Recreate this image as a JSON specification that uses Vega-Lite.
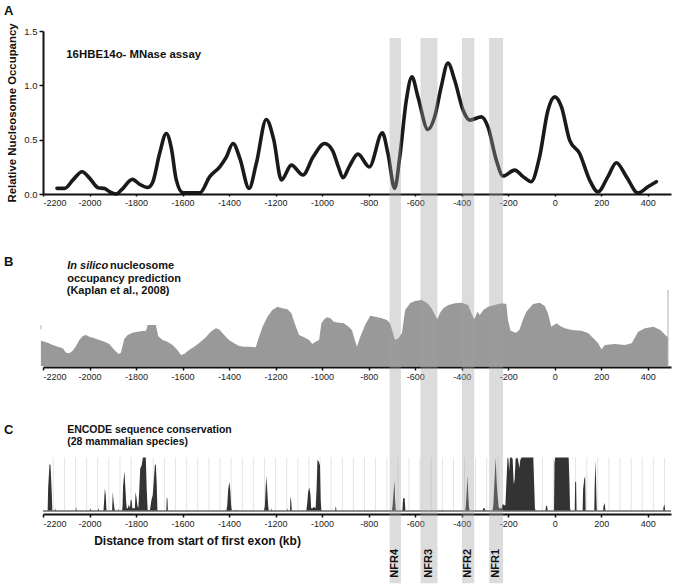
{
"$schema": "https://vega.github.io/schema/vega-lite/v6.json",
"padding": {"left": 3, "top": 5, "right": 0, "bottom": 0},
"spacing": 40,
"bounds": "flush",
"config": {"view": {"stroke": null}, "font": "Liberation Sans",
  "axis": {"grid": false, "domainColor": "#111", "domainWidth": 2, "tickColor": "#111", "tickWidth": 1.5, "tickSize": 3, "labelFont": "Liberation Sans", "labelFontSize": 9, "labelColor": "#222", "labelPadding": 2, "title": null}},
"vconcat": [
{
 "width": 628, "height": 163,
 "layer": [
  {"data": {"values": [
   {"x":-2140,"v":0.052},{"x":-2107,"v":0.052},{"x":-2071,"v":0.13},{"x":-2032,"v":0.205},{"x":-1999,"v":0.144},{"x":-1963,"v":0.058},{"x":-1935,"v":0.05},{"x":-1913,"v":0.02},{"x":-1885,"v":0.0},{"x":-1863,"v":0.037},{"x":-1816,"v":0.135},{"x":-1785,"v":0.09},{"x":-1749,"v":0.06},{"x":-1728,"v":0.11},{"x":-1699,"v":0.37},{"x":-1670,"v":0.557},{"x":-1648,"v":0.42},{"x":-1627,"v":0.13},{"x":-1598,"v":0.01},{"x":-1555,"v":0.01},{"x":-1526,"v":0.01},{"x":-1483,"v":0.16},{"x":-1440,"v":0.25},{"x":-1412,"v":0.34},{"x":-1383,"v":0.465},{"x":-1354,"v":0.33},{"x":-1314,"v":0.052},{"x":-1283,"v":0.28},{"x":-1240,"v":0.686},{"x":-1208,"v":0.5},{"x":-1175,"v":0.13},{"x":-1132,"v":0.266},{"x":-1082,"v":0.175},{"x":-1039,"v":0.34},{"x":-989,"v":0.465},{"x":-955,"v":0.4},{"x":-930,"v":0.25},{"x":-910,"v":0.15},{"x":-884,"v":0.25},{"x":-846,"v":0.367},{"x":-797,"v":0.25},{"x":-741,"v":0.563},{"x":-717,"v":0.373},{"x":-688,"v":0.052},{"x":-666,"v":0.343},{"x":-638,"v":0.863},{"x":-614,"v":1.078},{"x":-588,"v":0.894},{"x":-545,"v":0.594},{"x":-516,"v":0.71},{"x":-488,"v":0.986},{"x":-459,"v":1.206},{"x":-430,"v":1.047},{"x":-394,"v":0.771},{"x":-365,"v":0.68},{"x":-315,"v":0.71},{"x":-287,"v":0.618},{"x":-251,"v":0.312},{"x":-222,"v":0.165},{"x":-172,"v":0.22},{"x":-136,"v":0.16},{"x":-101,"v":0.113},{"x":-65,"v":0.343},{"x":-29,"v":0.771},{"x":0,"v":0.894},{"x":29,"v":0.802},{"x":64,"v":0.496},{"x":107,"v":0.373},{"x":150,"v":0.129},{"x":186,"v":0.02},{"x":229,"v":0.16},{"x":265,"v":0.288},{"x":308,"v":0.16},{"x":358,"v":0.01},{"x":401,"v":0.067},{"x":437,"v":0.113}
  ]},
  "mark": {"type": "line", "interpolate": "monotone", "strokeWidth": 3.6, "color": "#1a1a1a", "strokeCap": "round", "strokeJoin": "round"},
  "encoding": {
   "x": {"field": "x", "type": "quantitative", "scale": {"domain": [-2200, 500], "nice": false, "zero": false},
         "axis": {"values": [-2200,-2000,-1800,-1600,-1400,-1200,-1000,-800,-600,-400,-200,0,200,400], "labelExpr": "'' + datum.value", "tickSize": 2, "zindex": 1}},
   "y": {"field": "v", "type": "quantitative", "scale": {"domain": [0, 1.5], "nice": false},
         "axis": {"values": [0, 0.5, 1, 1.5], "format": ".1f", "tickSize": 4, "labelFontSize": 9.5, "title": "Relative Nucleosome Occupancy", "titleFont": "Liberation Sans", "titleFontSize": 11.4, "titleFontWeight": "bold", "titleColor": "#111", "titlePadding": 6}}
  }},
  {"data": {"values": [{"t": "16HBE14o- MNase assay"}]},
   "mark": {"type": "text", "align": "left", "baseline": "middle", "fontSize": 11.4, "fontWeight": "bold", "color": "#111"},
   "encoding": {"x": {"datum": -2100, "type": "quantitative"}, "y": {"datum": 1.276, "type": "quantitative"}, "text": {"field": "t"}}},
  {"data": {"values": [{"t": "A"}]},
   "mark": {"type": "text", "align": "left", "baseline": "middle", "fontSize": 13, "fontWeight": "bold", "color": "#111"},
   "encoding": {"x": {"datum": -2368, "type": "quantitative"}, "y": {"datum": 1.68, "type": "quantitative"}, "text": {"field": "t"}}}
 ]
},
{
 "width": 628, "height": 132,
 "layer": [
  {"data": {"values": [
   {"x":-2209,"h":25.3},{"x":-2180,"h":23.3},{"x":-2158,"h":21},{"x":-2137,"h":19.3},{"x":-2115,"h":17.7},{"x":-2101,"h":13.3},{"x":-2087,"h":12.7},{"x":-2072,"h":15.3},{"x":-2058,"h":20},{"x":-2044,"h":26},{"x":-2029,"h":30},{"x":-2015,"h":31},{"x":-2001,"h":29.3},{"x":-1979,"h":27.7},{"x":-1958,"h":26},{"x":-1936,"h":24.3},{"x":-1915,"h":22},{"x":-1893,"h":16},{"x":-1875,"h":12},{"x":-1865,"h":13.3},{"x":-1851,"h":26.7},{"x":-1836,"h":31},{"x":-1815,"h":33.3},{"x":-1793,"h":34.3},{"x":-1772,"h":35},{"x":-1757,"h":35.3},{"x":-1750,"h":41},{"x":-1715,"h":41},{"x":-1705,"h":30},{"x":-1686,"h":26},{"x":-1665,"h":24.3},{"x":-1643,"h":21},{"x":-1622,"h":16},{"x":-1607,"h":11},{"x":-1593,"h":12},{"x":-1572,"h":16},{"x":-1550,"h":19.3},{"x":-1522,"h":24.3},{"x":-1500,"h":28.7},{"x":-1479,"h":34.3},{"x":-1457,"h":37.7},{"x":-1443,"h":36.7},{"x":-1421,"h":31},{"x":-1400,"h":26},{"x":-1378,"h":22.7},{"x":-1357,"h":20},{"x":-1335,"h":19.3},{"x":-1314,"h":19.3},{"x":-1285,"h":18.7},{"x":-1278,"h":24.3},{"x":-1256,"h":39.3},{"x":-1235,"h":49.3},{"x":-1214,"h":56},{"x":-1192,"h":59.3},{"x":-1171,"h":57.7},{"x":-1149,"h":56.7},{"x":-1132,"h":52.7},{"x":-1118,"h":42.7},{"x":-1099,"h":31},{"x":-1078,"h":28.7},{"x":-1056,"h":26},{"x":-1042,"h":22},{"x":-1028,"h":24.3},{"x":-1013,"h":26},{"x":-1003,"h":42.7},{"x":-991,"h":46.7},{"x":-979,"h":48.7},{"x":-964,"h":47.7},{"x":-950,"h":44.3},{"x":-928,"h":43.3},{"x":-907,"h":42.7},{"x":-886,"h":39.3},{"x":-872,"h":36},{"x":-857,"h":24.3},{"x":-850,"h":19.3},{"x":-836,"h":29.3},{"x":-815,"h":41},{"x":-793,"h":50.3},{"x":-772,"h":49.3},{"x":-743,"h":47.7},{"x":-722,"h":46},{"x":-708,"h":42.7},{"x":-693,"h":31},{"x":-686,"h":26},{"x":-672,"h":27.7},{"x":-657,"h":32.7},{"x":-643,"h":56},{"x":-622,"h":62.7},{"x":-601,"h":65},{"x":-572,"h":66},{"x":-550,"h":63.3},{"x":-529,"h":57.7},{"x":-515,"h":51},{"x":-504,"h":46.7},{"x":-494,"h":52.7},{"x":-479,"h":57.7},{"x":-457,"h":61},{"x":-429,"h":62.7},{"x":-400,"h":63.3},{"x":-372,"h":61},{"x":-358,"h":52.7},{"x":-346,"h":46.7},{"x":-332,"h":54.3},{"x":-322,"h":51},{"x":-307,"h":56},{"x":-286,"h":59.3},{"x":-258,"h":61},{"x":-229,"h":62.7},{"x":-208,"h":62},{"x":-201,"h":46},{"x":-190,"h":35.3},{"x":-166,"h":33.3},{"x":-152,"h":36},{"x":-137,"h":46},{"x":-122,"h":54.3},{"x":-93,"h":62},{"x":-64,"h":63.3},{"x":-43,"h":60},{"x":-29,"h":52.7},{"x":-15,"h":39.3},{"x":9,"h":42.7},{"x":23,"h":40},{"x":44,"h":37.7},{"x":73,"h":36},{"x":116,"h":35.3},{"x":145,"h":32.7},{"x":166,"h":27.7},{"x":187,"h":22.7},{"x":201,"h":16.7},{"x":216,"h":21},{"x":258,"h":22},{"x":301,"h":21},{"x":331,"h":22.7},{"x":359,"h":34.3},{"x":388,"h":37.7},{"x":425,"h":39.3},{"x":454,"h":36},{"x":483,"h":29.3},{"x":487,"h":29.3}
  ]},
  "mark": {"type": "area", "interpolate": "linear", "color": "#999999"},
  "encoding": {
   "x": {"field": "x", "type": "quantitative", "scale": {"domain": [-2200, 500], "nice": false, "zero": false},
         "axis": {"values": [-2200,-2000,-1800,-1600,-1400,-1200,-1000,-800,-600,-400,-200,0,200,400], "labelExpr": "'' + datum.value", "offset": 1}},
   "y": {"field": "h", "type": "quantitative", "scale": {"domain": [0, 132], "nice": false}, "axis": null}
  }},
  {"data": {"values": [{"x": 487, "lo": 0, "hi": 76}, {"x": -2209, "lo": 36.7, "hi": 41}]},
   "mark": {"type": "rule", "color": "#b0b0b0", "strokeWidth": 1},
   "encoding": {"x": {"field": "x", "type": "quantitative"}, "y": {"field": "lo", "type": "quantitative"}, "y2": {"field": "hi"}}},
  {"data": {"values": [{"t": "B"}]},
   "mark": {"type": "text", "align": "left", "baseline": "middle", "fontSize": 13, "fontWeight": "bold", "color": "#111"},
   "encoding": {"x": {"datum": -2368, "type": "quantitative"}, "y": {"datum": 103.7, "type": "quantitative"}, "text": {"field": "t"}}},
  {"data": {"values": [{"t": "In silico"}]},
   "mark": {"type": "text", "align": "left", "baseline": "middle", "fontSize": 11, "fontWeight": "bold", "fontStyle": "italic", "color": "#111"},
   "encoding": {"x": {"datum": -2096, "type": "quantitative"}, "y": {"datum": 100, "type": "quantitative"}, "text": {"field": "t"}}},
  {"data": {"values": [{"t": "nucleosome", "y": 100, "x": -1912}, {"t": "occupancy prediction", "y": 87.4, "x": -2096}, {"t": "(Kaplan et al., 2008)", "y": 74.7, "x": -2098}]},
   "mark": {"type": "text", "align": "left", "baseline": "middle", "fontSize": 11, "fontWeight": "bold", "color": "#111"},
   "encoding": {"x": {"field": "x", "type": "quantitative"}, "y": {"field": "y", "type": "quantitative"}, "text": {"field": "t"}}}
 ]
},
{
 "width": 628, "height": 105,
 "layer": [
  {"data": {"values": [
   {"g":-2156},{"g":-2108},{"g":-2060},{"g":-2012},{"g":-1965},{"g":-1917},{"g":-1869},{"g":-1821},{"g":-1773},{"g":-1726},{"g":-1678},{"g":-1630},{"g":-1582},{"g":-1535},{"g":-1487},{"g":-1439},{"g":-1391},{"g":-1343},{"g":-1296},{"g":-1248},{"g":-1200},{"g":-1152},{"g":-1104},{"g":-1057},{"g":-1009},{"g":-961},{"g":-913},{"g":-866},{"g":-818},{"g":-770},{"g":-722},{"g":-674},{"g":-627},{"g":-579},{"g":-531},{"g":-483},{"g":-435},{"g":-388},{"g":-340},{"g":-292},{"g":-244},{"g":-197},{"g":-149},{"g":-101},{"g":-53},{"g":-6},{"g":42},{"g":90},{"g":138},{"g":185},{"g":233},{"g":281},{"g":329},{"g":376},{"g":424},{"g":472}
  ]},
  "mark": {"type": "rule", "color": "#e4e4e4", "strokeWidth": 1},
  "encoding": {
   "x": {"field": "g", "type": "quantitative", "scale": {"domain": [-2200, 500], "nice": false, "zero": false},
         "axis": {"values": [-2200,-2000,-1800,-1600,-1400,-1200,-1000,-800,-600,-400,-200,0,200,400], "labelExpr": "'' + datum.value", "offset": 3}},
   "y": {"datum": 0, "type": "quantitative", "scale": {"domain": [0, 1.966], "nice": false}, "axis": null},
   "y2": {"datum": 1}
  }},
  {"data": {"values": [
   {"x":-2200,"v":0},{"x":-2180,"v":0},{"x":-2178,"v":0.42},{"x":-2172,"v":0.88},{"x":-2168,"v":0.86},{"x":-2165,"v":0.6},{"x":-2162,"v":0.3},{"x":-2160,"v":0},{"x":-2150,"v":0},{"x":-2148,"v":0.05},{"x":-2145,"v":0},{"x":-2060,"v":0},{"x":-2058,"v":0.08},{"x":-2055,"v":0},{"x":-2000,"v":0},{"x":-1997,"v":0.05},{"x":-1993,"v":0},{"x":-1965,"v":0},{"x":-1962,"v":0.05},{"x":-1958,"v":0},{"x":-1940,"v":0},{"x":-1937,"v":0.2},{"x":-1934,"v":0.42},{"x":-1930,"v":0.3},{"x":-1927,"v":0},{"x":-1903,"v":0},{"x":-1900,"v":0.36},{"x":-1897,"v":0.2},{"x":-1893,"v":0.05},{"x":-1890,"v":0},{"x":-1878,"v":0},{"x":-1876,"v":0.05},{"x":-1874,"v":0},{"x":-1860,"v":0},{"x":-1858,"v":0.1},{"x":-1856,"v":0.45},{"x":-1850,"v":0.75},{"x":-1846,"v":0.45},{"x":-1843,"v":0.2},{"x":-1840,"v":0.05},{"x":-1835,"v":0.05},{"x":-1831,"v":0.12},{"x":-1826,"v":0.05},{"x":-1823,"v":0.2},{"x":-1819,"v":0.2},{"x":-1816,"v":0.05},{"x":-1805,"v":0.05},{"x":-1802,"v":0.36},{"x":-1798,"v":0.25},{"x":-1794,"v":0.1},{"x":-1790,"v":0.05},{"x":-1786,"v":0.4},{"x":-1782,"v":0.8},{"x":-1776,"v":0.85},{"x":-1770,"v":1.0},{"x":-1758,"v":1.0},{"x":-1754,"v":0.4},{"x":-1750,"v":0.02},{"x":-1740,"v":0.02},{"x":-1734,"v":0.2},{"x":-1728,"v":0.3},{"x":-1724,"v":0.55},{"x":-1719,"v":0.85},{"x":-1715,"v":0.88},{"x":-1711,"v":0.5},{"x":-1708,"v":0},{"x":-1670,"v":0},{"x":-1668,"v":0.24},{"x":-1665,"v":0.24},{"x":-1663,"v":0},
   {"x":-1412,"v":0},{"x":-1408,"v":0.1},{"x":-1404,"v":0.39},{"x":-1399,"v":0.55},{"x":-1395,"v":0.4},{"x":-1391,"v":0.1},{"x":-1388,"v":0},{"x":-1372,"v":0},{"x":-1369,"v":0.03},{"x":-1366,"v":0},{"x":-1250,"v":0},{"x":-1246,"v":0.1},{"x":-1243,"v":0.4},{"x":-1240,"v":0.65},{"x":-1236,"v":0.4},{"x":-1232,"v":0.1},{"x":-1229,"v":0},{"x":-1220,"v":0},{"x":-1218,"v":0.05},{"x":-1215,"v":0},{"x":-1150,"v":0},{"x":-1148,"v":0.05},{"x":-1145,"v":0},{"x":-1138,"v":0},{"x":-1136,"v":0.27},{"x":-1133,"v":0.2},{"x":-1130,"v":0},{"x":-1068,"v":0},{"x":-1064,"v":0.14},{"x":-1060,"v":0.36},{"x":-1055,"v":0.44},{"x":-1050,"v":0.3},{"x":-1047,"v":0.05},{"x":-1040,"v":0.05},{"x":-1037,"v":0.08},{"x":-1028,"v":0.05},{"x":-1024,"v":0.39},{"x":-1020,"v":0.96},{"x":-1014,"v":0.92},{"x":-1009,"v":0.85},{"x":-1006,"v":0.2},{"x":-1003,"v":0},{"x":-944,"v":0},{"x":-941,"v":0.1},{"x":-938,"v":0},
   {"x":-700,"v":0},{"x":-697,"v":0.1},{"x":-692,"v":0.4},{"x":-689,"v":0.57},{"x":-686,"v":0.2},{"x":-683,"v":0},{"x":-655,"v":0},{"x":-652,"v":0.24},{"x":-645,"v":0.24},{"x":-642,"v":0},{"x":-487,"v":0},{"x":-485,"v":0.03},{"x":-483,"v":0},{"x":-385,"v":0},{"x":-382,"v":0.1},{"x":-378,"v":0.4},{"x":-375,"v":0.67},{"x":-371,"v":0.25},{"x":-368,"v":0.05},{"x":-365,"v":0},{"x":-310,"v":0},{"x":-307,"v":0.05},{"x":-301,"v":0.05},{"x":-298,"v":0},{"x":-268,"v":0},{"x":-264,"v":0.1},{"x":-260,"v":0.45},{"x":-254,"v":1.0},{"x":-249,"v":0.5},{"x":-244,"v":0.2},{"x":-240,"v":0.05},{"x":-228,"v":0.05},{"x":-225,"v":0.12},{"x":-220,"v":0.12},{"x":-212,"v":0.1},{"x":-208,"v":0.5},{"x":-203,"v":1.0},{"x":-199,"v":0.98},{"x":-196,"v":0.75},{"x":-192,"v":1.0},{"x":-186,"v":1.0},{"x":-181,"v":0.98},{"x":-176,"v":0.5},{"x":-172,"v":0.6},{"x":-168,"v":0.98},{"x":-161,"v":1.0},{"x":-157,"v":0.95},{"x":-152,"v":0.8},{"x":-148,"v":0.95},{"x":-143,"v":1.0},{"x":-92,"v":1.0},{"x":-85,"v":0.05},{"x":-82,"v":0},{"x":-40,"v":0},{"x":-37,"v":0.1},{"x":-33,"v":0.1},{"x":-30,"v":0},{"x":-3,"v":0},{"x":-1,"v":0.9},{"x":2,"v":1.0},{"x":60,"v":1.0},{"x":63,"v":0.6},{"x":66,"v":0.05},{"x":69,"v":0},{"x":86,"v":0},{"x":88,"v":0.55},{"x":92,"v":0.55},{"x":94,"v":0},{"x":120,"v":0},{"x":122,"v":0.4},{"x":127,"v":0.6},{"x":131,"v":0.65},{"x":133,"v":0},{"x":170,"v":0},{"x":172,"v":0.5},{"x":176,"v":0.95},{"x":179,"v":0.3},{"x":181,"v":0},{"x":208,"v":0},{"x":210,"v":0.1},{"x":215,"v":0.15},{"x":218,"v":0},{"x":466,"v":0},{"x":468,"v":0.08},{"x":472,"v":0.12},{"x":475,"v":0},{"x":500,"v":0}
  ]},
  "mark": {"type": "area", "interpolate": "linear", "color": "#333333"},
  "encoding": {"x": {"field": "x", "type": "quantitative"}, "y": {"field": "v", "type": "quantitative"}}},
  {"data": {"values": [{"base": 0}]},
   "mark": {"type": "rule", "color": "#6a6a6a", "strokeWidth": 1.6},
   "encoding": {"y": {"field": "base", "type": "quantitative"}}},
  {"data": {"values": [
   {"nfr": "NFR4", "start": -710, "end": -661, "mid": -685},
   {"nfr": "NFR3", "start": -577, "end": -504, "mid": -540},
   {"nfr": "NFR2", "start": -399, "end": -346, "mid": -372},
   {"nfr": "NFR1", "start": -282, "end": -222, "mid": -252}
  ]},
   "layer": [
    {"mark": {"type": "rect", "color": "#a0a0a0", "opacity": 0.37},
     "encoding": {"x": {"field": "start", "type": "quantitative"}, "x2": {"field": "end"}, "y": {"datum": 8.858, "type": "quantitative"}, "y2": {"datum": -1.354}}},
    {"mark": {"type": "text", "angle": 270, "align": "center", "baseline": "middle", "fontSize": 11, "fontWeight": "bold", "color": "#111"},
     "encoding": {"x": {"field": "mid", "type": "quantitative"}, "y": {"datum": -0.979, "type": "quantitative"}, "text": {"field": "nfr"}}}
   ]},
  {"data": {"values": [{"t": "C"}]},
   "mark": {"type": "text", "align": "left", "baseline": "middle", "fontSize": 13, "fontWeight": "bold", "color": "#111"},
   "encoding": {"x": {"datum": -2368, "type": "quantitative"}, "y": {"datum": 1.524, "type": "quantitative"}, "text": {"field": "t"}}},
  {"data": {"values": [{"t": "ENCODE sequence conservation", "y": 1.524}, {"t": "(28 mammalian species)", "y": 1.292}]},
   "mark": {"type": "text", "align": "left", "baseline": "middle", "fontSize": 10.5, "fontWeight": "bold", "color": "#111"},
   "encoding": {"x": {"datum": -2096, "type": "quantitative"}, "y": {"field": "y", "type": "quantitative"}, "text": {"field": "t"}}},
  {"data": {"values": [{"t": "Distance from start of first exon (kb)"}]},
   "mark": {"type": "text", "align": "left", "baseline": "middle", "fontSize": 12, "fontWeight": "bold", "color": "#111"},
   "encoding": {"x": {"datum": -1980, "type": "quantitative"}, "y": {"datum": -0.567, "type": "quantitative"}, "text": {"field": "t"}}}
 ]
}
]
}
